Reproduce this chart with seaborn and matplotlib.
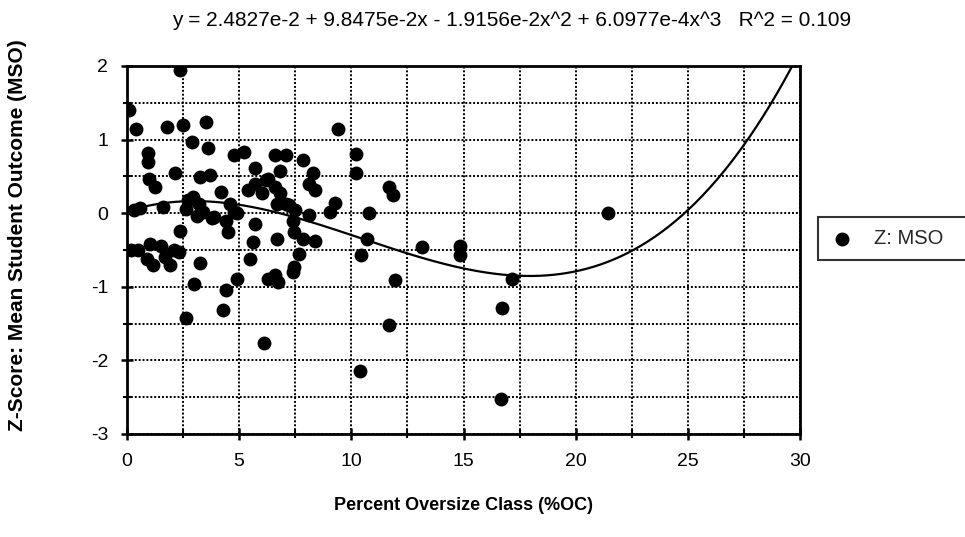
import numpy as np
import pandas as pd
import matplotlib
matplotlib.use("Agg")
import matplotlib.pyplot as plt
import seaborn as sns
from matplotlib.ticker import MultipleLocator

# ---- data ----
pct_oversize = [
    2.35, 0.1, 0.4, 1.8, 2.5, 3.5, 9.4, 2.9, 3.6, 0.95, 0.95, 4.75, 5.2, 6.6, 7.1,
    6.8, 7.85, 10.2, 10.2, 1.0, 1.25, 2.15, 3.25, 3.7, 5.7, 6.3, 8.3, 8.1, 8.4,
    11.7, 11.85, 4.2, 5.4, 5.7, 6.0, 6.6, 6.8, 7.1, 2.95, 3.2, 3.4, 3.8, 2.7,
    0.58, 0.3, 1.6, 4.6, 4.75, 4.9, 6.7, 7.2, 7.5, 8.1, 9.25, 9.05, 10.8, 3.9,
    4.4, 5.7, 7.4, 7.45, 4.5, 2.35, 10.7, 5.63, 6.67, 7.85, 8.4, 13.15, 14.85,
    14.85, 17.15, 16.7, 16.65, 21.45, 0.5, 1.03, 1.5, 2.1, 2.3, 0.2, 0.88, 1.15,
    1.7, 1.9, 3.25, 7.65, 10.45, 5.5, 7.45, 7.4, 6.3, 6.6, 6.75, 4.9, 3.0, 4.4,
    11.95, 4.3, 2.65, 11.7, 6.1, 10.4, 3.1, 6.2, 2.65,
]
z_mso = [
    1.95, 1.40, 1.14, 1.17, 1.20, 1.24, 1.14, 0.97, 0.89, 0.82, 0.70, 0.79, 0.83, 0.79, 0.79,
    0.57, 0.72, 0.81, 0.54, 0.47, 0.36, 0.54, 0.49, 0.52, 0.61, 0.47, 0.54, 0.40, 0.31,
    0.36, 0.25, 0.29, 0.31, 0.40, 0.27, 0.35, 0.27, 0.13, 0.22, 0.13, 0.02, -0.07, 0.18,
    0.07, 0.05, 0.08, 0.13, 0.02, 0.00, 0.13, 0.11, 0.04, -0.03, 0.14, 0.02, 0.00, -0.05,
    -0.10, -0.14, -0.10, -0.25, -0.26, -0.24, -0.35, -0.39, -0.35, -0.35, -0.38, -0.46, -0.44,
    -0.57, -0.90, -1.29, -2.53, 0.00, -0.50, -0.42, -0.45, -0.50, -0.53, -0.50, -0.62, -0.71,
    -0.60, -0.70, -0.67, -0.56, -0.57, -0.62, -0.73, -0.80, -0.89, -0.84, -0.93, -0.89, -0.96, -1.04,
    -0.91, -1.32, -1.42, -1.52, -1.77, -2.15, -0.04, 0.45, 0.06,
]
fit_coef = [2.4827e-2, 9.8475e-2, -1.9156e-2, 6.0977e-4]  # c0 + c1 x + c2 x^2 + c3 x^3
x_ticks = [0, 5, 10, 15, 20, 25, 30]
y_ticks = [-3, -2, -1, 0, 1, 2]
title_text = "y = 2.4827e-2 + 9.8475e-2x - 1.9156e-2x^2 + 6.0977e-4x^3   R^2 = 0.109"
x_label = "Percent Oversize Class (%OC)"
y_label = "Z-Score: Mean Student Outcome (MSO)"
legend_label = "Z: MSO"

# ---- style ----
sns.set_theme(style="white")
plt.rcParams["font.family"] = ["Liberation Sans", "DejaVu Sans"]
plt.rcParams["axes.unicode_minus"] = False

W, H = 965, 537
fig = plt.figure(figsize=(W / 100, H / 100), dpi=100)
L, R, T, B = 127, 800, 66, 434
ax = fig.add_axes([L / W, 1 - B / H, (R - L) / W, (B - T) / H])

df = pd.DataFrame({"pct": pct_oversize, "z": z_mso})
sns.scatterplot(data=df, x="pct", y="z", ax=ax, color="black", s=100,
                edgecolor="black", linewidth=0, label=legend_label, zorder=3)

xs = np.linspace(0, 30, 400)
ys = np.polyval(fit_coef[::-1], xs)
sns.lineplot(x=xs, y=ys, ax=ax, color="black", lw=1.6, legend=False, zorder=2)

ax.set_xlim(0, 30)
ax.set_ylim(-3, 2)
ax.set_xticks(x_ticks)
ax.set_yticks(y_ticks)
ax.xaxis.set_minor_locator(MultipleLocator(2.5))
ax.yaxis.set_minor_locator(MultipleLocator(0.5))
ax.grid(True, which="both", color="black", linestyle=(0, (1, 1)), linewidth=1.4, zorder=1)
ax.set_axisbelow(True)

for sp in ax.spines.values():
    sp.set_color("black")
    sp.set_linewidth(2)

ax.tick_params(axis="both", which="major", direction="inout", length=9, width=1.8,
               color="black", labelsize=14, labelcolor="black", bottom=True, left=True)
ax.tick_params(axis="both", which="minor", direction="inout", length=6, width=1.5,
               color="black", bottom=True, left=True)
ax.tick_params(axis="x", which="major", pad=9)
ax.tick_params(axis="y", which="major", pad=9)

ax.set_xlabel(x_label, fontsize=13, fontweight="bold", color="black")
ax.xaxis.set_label_coords(0.5, -(497 - B) / (B - T), transform=ax.transAxes)
ax.set_ylabel(y_label, fontsize=15, fontweight="bold", color="black")
ax.yaxis.set_label_coords(-(L - 27) / (R - L), (B - 235) / (B - T))

fig.text(512 / W, 1 - 20 / H, title_text, fontsize=15, ha="center", va="center", color="black")

leg0 = ax.get_legend()
if leg0 is not None:
    leg0.remove()
handles, labels = ax.get_legend_handles_labels()
leg = fig.legend(handles[:1], labels[:1], loc="lower left",
                 bbox_to_anchor=(818 / W, 1 - 260 / H, 0.2, 48 / H), mode="expand",
                 fontsize=14.5, frameon=True, fancybox=False, borderpad=0.6,
                 handletextpad=1.0, handlelength=1.2, borderaxespad=0)
leg.get_frame().set_edgecolor("black")
leg.get_frame().set_linewidth(1.5)

fig.savefig("out.png", dpi=100, facecolor="white")
